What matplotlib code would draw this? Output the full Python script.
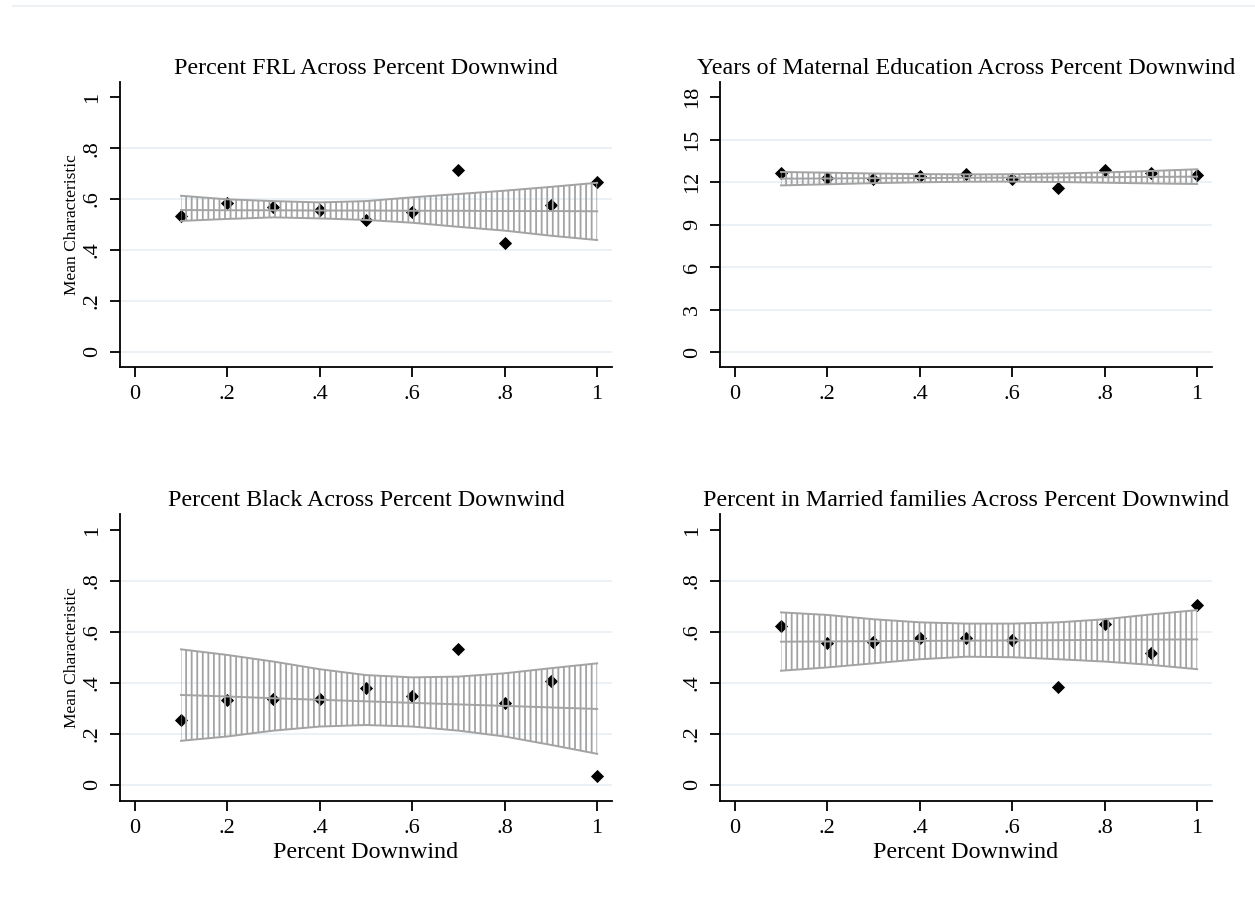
import numpy as np
import matplotlib
matplotlib.use("Agg")
import matplotlib.pyplot as plt
from matplotlib.lines import Line2D

plt.rcParams['font.family'] = ['Liberation Serif', 'DejaVu Serif']
plt.rcParams['hatch.linewidth'] = 1.3

# share of downwind exposure (bins)
downwind = [0.1, 0.2, 0.3, 0.4, 0.5, 0.6, 0.7, 0.8, 0.9, 1.0]

# Percent FRL
frl_mean = [0.533, 0.583, 0.570, 0.557, 0.518, 0.550, 0.716, 0.429, 0.576, 0.668]
frl_fit = [0.557, 0.556, 0.556, 0.555, 0.555, 0.554, 0.554, 0.553, 0.553, 0.552]
frl_hi = [0.613, 0.599, 0.592, 0.587, 0.592, 0.607, 0.620, 0.633, 0.648, 0.664]
frl_lo = [0.514, 0.522, 0.528, 0.524, 0.518, 0.507, 0.491, 0.476, 0.456, 0.439]

# Years of maternal education
edu_mean = [12.61, 12.31, 12.24, 12.43, 12.54, 12.19, 11.60, 12.85, 12.61, 12.47]
edu_fit = [12.24, 12.25, 12.27, 12.28, 12.30, 12.31, 12.33, 12.34, 12.36, 12.38]
edu_hi = [12.71, 12.66, 12.60, 12.56, 12.54, 12.55, 12.60, 12.68, 12.78, 12.90]
edu_lo = [11.76, 11.84, 11.92, 11.98, 12.02, 12.03, 12.00, 11.95, 11.90, 11.86]

# Percent Black
blk_mean = [0.255, 0.333, 0.336, 0.336, 0.382, 0.349, 0.535, 0.323, 0.408, 0.035]
blk_fit = [0.353, 0.347, 0.340, 0.334, 0.328, 0.322, 0.316, 0.310, 0.304, 0.298]
blk_hi = [0.532, 0.510, 0.484, 0.454, 0.431, 0.422, 0.425, 0.438, 0.458, 0.477]
blk_lo = [0.173, 0.190, 0.213, 0.229, 0.235, 0.229, 0.213, 0.190, 0.157, 0.122]

# Percent in married families
mar_mean = [0.624, 0.556, 0.562, 0.578, 0.575, 0.569, 0.383, 0.630, 0.516, 0.706]
mar_fit = [0.562, 0.563, 0.564, 0.565, 0.566, 0.567, 0.568, 0.569, 0.570, 0.571]
mar_hi = [0.677, 0.667, 0.650, 0.638, 0.633, 0.633, 0.638, 0.650, 0.669, 0.686]
mar_lo = [0.448, 0.461, 0.477, 0.493, 0.503, 0.501, 0.493, 0.484, 0.471, 0.454]

share_ticks = [0, 0.2, 0.4, 0.6, 0.8, 1.0]
share_labels = ['0', '.2', '.4', '.6', '.8', '1']
years_ticks = [0, 3, 6, 9, 12, 15, 18]

panels = [
    ('Percent FRL Across Percent Downwind', frl_mean, frl_fit, frl_hi, frl_lo,
     share_ticks, share_labels, (-0.06, 1.06)),
    ('Years of Maternal Education Across Percent Downwind', edu_mean, edu_fit, edu_hi, edu_lo,
     years_ticks, [str(t) for t in years_ticks], (-1.06, 19.06)),
    ('Percent Black Across Percent Downwind', blk_mean, blk_fit, blk_hi, blk_lo,
     share_ticks, share_labels, (-0.063, 1.063)),
    ('Percent in Married families Across Percent Downwind', mar_mean, mar_fit, mar_hi, mar_lo,
     share_ticks, share_labels, (-0.063, 1.063)),
]

boxes = [
    [0.0956, 0.5953, 0.392, 0.3143],
    [0.5737, 0.5953, 0.392, 0.3143],
    [0.0956, 0.1169, 0.392, 0.3164],
    [0.5737, 0.1169, 0.392, 0.3164],
]

band_col = '#a3a3a3'
grid_col = '#e9eff3'

fig = plt.figure(figsize=(12.55, 9.07), dpi=100)
fig.add_artist(Line2D([0.01, 1.0], [0.9934, 0.9934], color='#edf1f4', lw=1.5))

for i, (title, mean, fit, hi, lo, yt, ytl, ylim) in enumerate(panels):
    ax = fig.add_axes(boxes[i])
    ax.scatter(downwind, mean, marker='D', s=45, color='black', zorder=2, linewidths=0)
    ax.fill_between(downwind, lo, hi, facecolor='none', edgecolor=band_col,
                    hatch='|||', linewidth=0, zorder=3)
    ax.plot(downwind, hi, color=band_col, lw=1.4, zorder=3)
    ax.plot(downwind, lo, color=band_col, lw=1.4, zorder=3)
    ax.plot(downwind, fit, color=band_col, lw=1.4, zorder=3)

    ax.set_xlim(-0.032, 1.032)
    ax.set_ylim(*ylim)
    ax.set_xticks(share_ticks)
    ax.set_xticklabels(share_labels, fontsize=16)
    ax.set_yticks(yt)
    ax.set_yticklabels(ytl, fontsize=16, rotation=90, va='center')
    for t in yt[:-1]:
        ax.axhline(t, color=grid_col, lw=1.2, zorder=0)

    for side in ('top', 'right'):
        ax.spines[side].set_visible(False)
    for side in ('left', 'bottom'):
        ax.spines[side].set_linewidth(1.3)
    ax.tick_params(direction='out', length=7, width=1.3, pad=6)
    ax.set_title(title, fontsize=17.3, pad=6)

    if i in (0, 2):
        ax.set_ylabel('Mean Characteristic', fontsize=12.5, labelpad=2)
    if i in (2, 3):
        ax.set_xlabel('Percent Downwind', fontsize=17.3, labelpad=3)

fig.savefig('out.png', dpi=100, facecolor='white')
